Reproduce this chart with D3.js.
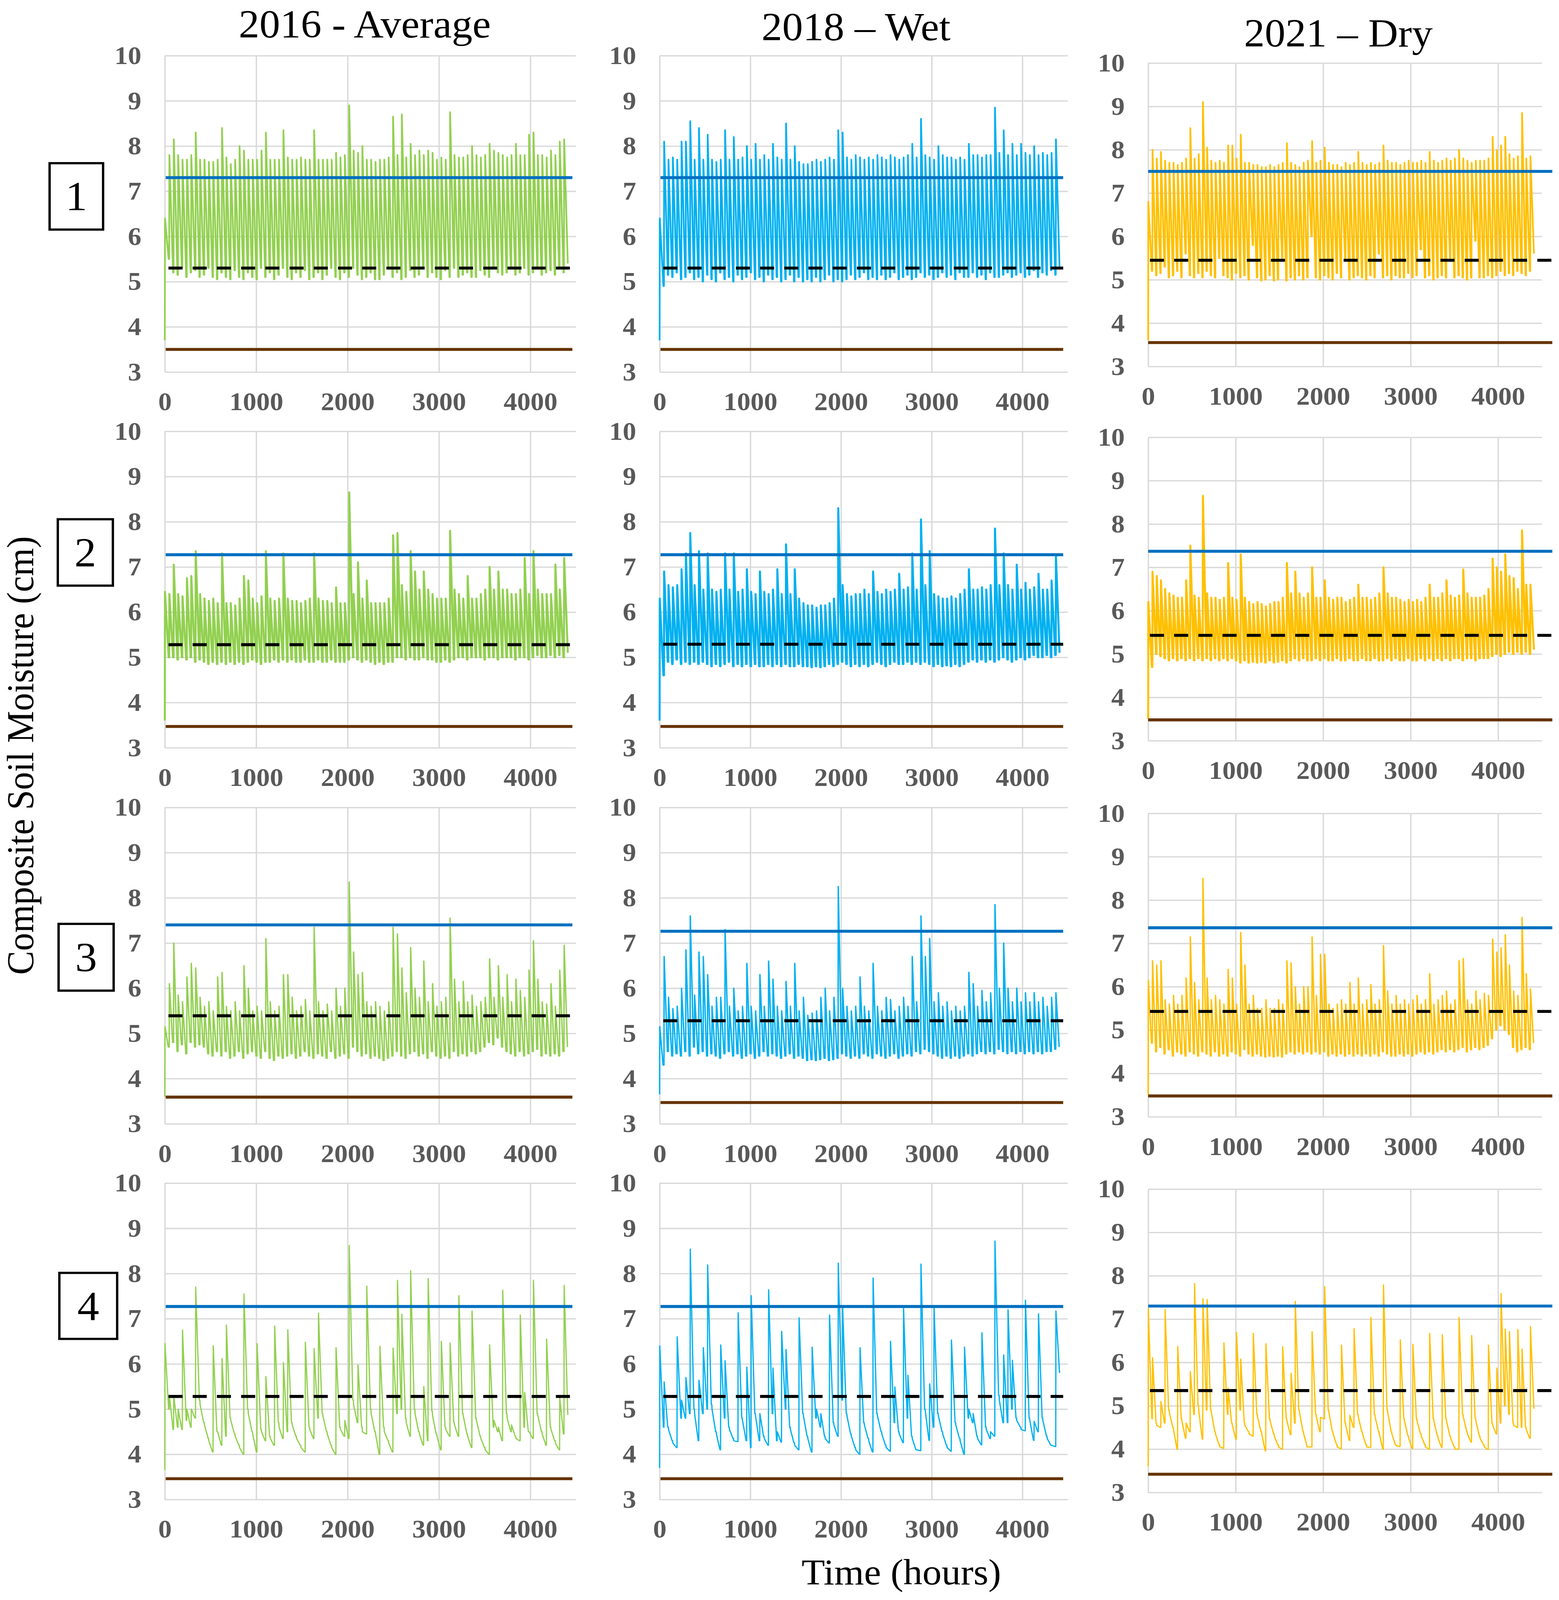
<!DOCTYPE html>
<html>
<head>
<meta charset="utf-8">
<script src="https://cdn.jsdelivr.net/npm/d3@7"></script>
<style>
html, body { margin: 0; padding: 0; width: 100%; height: 100%; overflow: hidden; background: #fff; }
svg { display: block; width: 100vw; height: 100vh; }
</style>
</head>
<body>
<svg id="chart" viewBox="0 0 3992 4314" preserveAspectRatio="none"></svg>
<script>
const columnTitles = ['2016 - Average', '2018 \u2013 Wet', '2021 \u2013 Dry'];
const zoneLabels = ['1', '2', '3', '4'];
const xTicks = [0, 1000, 2000, 3000, 4000];
const yTicks = [3, 4, 5, 6, 7, 8, 9, 10];

// one reading every 48 h: peak right after the event, low at the end of the drying
const STEP_HOURS = 48;

// per zone (row), per year (column)
const startValues = [[3.7, 3.7, 3.6], [3.6, 3.6, 3.5], [3.6, 3.65, 3.5], [3.65, 3.7, 3.6]];
const upperRef = [[7.3, 7.3, 7.5], [7.27, 7.27, 7.37], [7.4, 7.26, 7.36], [7.27, 7.27, 7.3]];
const middleRef = [[5.3, 5.3, 5.45], [5.28, 5.29, 5.43], [5.39, 5.28, 5.43], [5.28, 5.28, 5.35]];
const lowerRef = [[3.5, 3.5, 3.55], [3.47, 3.47, 3.48], [3.59, 3.47, 3.48], [3.46, 3.46, 3.42]];

// zone 1
const peaksZ1_2016 = [6.4,7.8,8.15,7.8,7.7,7.7,7.8,8.3,7.7,7.7,
  7.65,7.65,7.7,8.4,7.75,7.6,7.7,8.0,7.9,7.7,
  7.7,7.7,7.9,8.3,7.7,7.7,7.7,8.35,7.75,7.7,
  7.7,7.75,7.7,7.7,8.35,7.7,7.7,7.7,7.7,7.85,
  7.75,7.8,8.9,7.9,7.85,8.0,7.7,7.7,7.65,7.7,
  7.7,7.75,8.65,7.8,8.7,7.75,8.05,7.8,7.9,7.8,
  7.9,7.85,7.7,7.75,7.7,8.75,7.8,7.75,7.75,7.8,
  8.0,7.8,7.75,7.8,8.05,7.9,7.85,7.8,7.75,7.8,
  8.05,7.8,7.8,8.25,8.3,7.8,7.8,7.75,7.9,7.8,
  8.1,8.15];
const lowsZ1_2016 = [5.5,5.2,5.15,5.3,5.1,5.2,5.25,5.1,5.15,5.3,
  5.1,5.05,5.2,5.1,5.05,5.25,5.1,5.05,5.2,5.1,
  5.05,5.3,5.1,5.2,5.05,5.15,5.3,5.1,5.05,5.2,
  5.1,5.25,5.05,5.1,5.2,5.05,5.15,5.3,5.1,5.05,
  5.2,5.1,5.3,5.15,5.05,5.1,5.2,5.05,5.05,5.15,
  5.3,5.1,5.2,5.05,5.1,5.25,5.1,5.15,5.3,5.1,
  5.2,5.1,5.05,5.25,5.1,5.3,5.1,5.15,5.2,5.1,
  5.1,5.25,5.15,5.1,5.3,5.2,5.15,5.2,5.3,5.15,
  5.2,5.3,5.15,5.2,5.3,5.15,5.2,5.25,5.15,5.3,
  5.2,5.4];
const peaksZ1_2018 = [6.4,8.1,7.7,7.75,7.7,8.1,8.1,8.55,7.7,8.4,
  7.7,8.25,7.7,7.65,7.7,8.35,7.7,8.2,7.7,7.75,
  8.0,7.7,8.05,7.7,7.8,7.7,8.05,7.75,7.7,8.5,
  7.7,8.0,7.65,7.6,7.6,7.65,7.7,7.65,7.7,7.75,
  7.7,8.35,8.3,7.75,7.7,7.8,7.75,7.7,7.75,7.7,
  7.8,7.75,7.7,7.8,7.75,7.7,7.75,7.8,8.05,7.75,
  8.6,7.8,7.75,7.7,8.0,7.8,7.75,7.75,7.7,7.75,
  7.7,8.05,7.8,7.8,7.75,7.8,7.8,8.85,7.85,8.35,
  7.8,8.05,7.8,8.05,7.85,7.8,8.0,7.8,7.85,7.8,
  7.85,8.15];
const lowsZ1_2018 = [4.9,5.15,5.1,5.2,5.05,5.1,5.2,5.05,5.1,5.0,
  5.15,5.05,5.0,5.2,5.05,5.1,5.0,5.15,5.05,5.1,
  5.2,5.05,5.1,5.0,5.15,5.05,5.1,5.0,5.05,5.15,
  5.0,5.1,5.0,5.05,5.0,5.1,5.0,5.05,5.15,5.0,
  5.05,5.0,5.05,5.15,5.05,5.1,5.2,5.05,5.1,5.05,
  5.15,5.05,5.1,5.2,5.05,5.1,5.15,5.05,5.1,5.2,
  5.1,5.15,5.05,5.1,5.2,5.1,5.15,5.05,5.2,5.1,
  5.1,5.2,5.1,5.15,5.05,5.2,5.1,5.1,5.15,5.2,
  5.1,5.15,5.2,5.1,5.15,5.25,5.1,5.2,5.15,5.25,
  5.15,5.3];
const peaksZ1_2021 = [6.8,8.0,7.8,7.95,7.75,7.7,7.7,7.65,7.7,7.8,
  8.5,7.8,7.9,9.1,8.05,7.75,7.7,7.75,7.7,8.1,
  8.1,7.8,8.35,7.7,7.7,7.65,7.65,7.6,7.6,7.65,
  7.6,7.65,7.7,8.15,7.7,7.65,7.6,7.7,7.75,8.2,
  7.7,7.75,8.05,7.7,7.65,7.65,7.6,7.7,7.65,7.7,
  7.95,7.7,7.65,7.7,7.65,7.7,8.1,7.75,7.7,7.7,
  7.65,7.7,7.75,7.7,7.7,7.75,7.7,7.95,7.75,7.7,
  7.75,7.8,7.75,7.8,8.0,7.8,7.75,7.7,7.75,7.75,
  7.75,7.8,8.3,8.0,8.1,8.3,7.9,7.8,7.85,8.85,
  7.8,7.85];
const lowsZ1_2021 = [5.2,5.1,5.15,5.3,5.05,5.1,5.2,5.05,5.6,5.1,
  5.05,5.15,5.05,5.2,5.1,5.05,5.5,5.1,5.05,5.0,
  5.15,5.05,5.1,5.0,5.8,5.05,4.98,5.0,5.1,4.98,
  5.0,5.5,4.98,5.05,5.0,5.1,5.0,5.05,6.0,5.05,
  5.0,5.1,5.05,5.0,5.15,5.05,5.5,5.0,5.05,5.1,
  5.05,5.0,5.1,5.05,5.6,5.05,5.1,5.0,5.1,5.05,
  5.05,5.15,5.05,5.1,5.7,5.05,5.1,5.0,5.05,5.1,
  5.05,5.5,5.05,5.1,5.05,5.0,5.05,5.9,5.05,5.05,
  5.1,5.05,5.1,5.2,5.1,5.15,5.1,5.2,5.15,5.1,
  5.2,5.6];

// zone 2
const peaksZ2_2016 = [6.45,6.4,7.05,6.4,6.35,6.75,6.8,7.35,6.4,6.3,
  6.25,6.3,6.2,7.3,6.2,6.2,6.15,6.3,6.8,6.7,
  6.3,6.2,6.35,7.35,6.3,6.25,6.3,7.3,6.3,6.25,
  6.25,6.2,6.25,6.3,7.3,6.3,6.25,6.25,6.2,6.55,
  6.2,6.2,8.65,6.4,7.1,6.3,6.7,6.2,6.2,6.2,
  6.2,6.3,7.7,7.75,6.6,6.45,7.35,6.9,6.5,6.9,
  6.5,6.4,6.3,6.3,6.3,7.8,6.5,6.4,6.3,6.8,
  6.3,6.3,6.4,6.5,7.0,6.5,6.9,6.5,6.5,6.4,
  6.4,6.5,7.2,6.4,7.35,6.5,6.4,6.4,6.4,7.05,
  6.5,7.2];
const lowsZ2_2016 = [5.0,5.0,4.95,5.0,4.95,5.0,4.9,4.95,4.9,4.85,
  4.9,4.85,4.9,4.85,4.9,4.85,4.9,4.85,4.9,4.95,
  4.9,4.85,4.9,4.9,4.95,4.9,4.95,4.9,4.95,4.9,
  4.9,4.95,4.9,4.9,4.95,4.9,4.9,4.95,4.9,4.9,
  4.9,4.95,5.0,4.95,4.9,4.95,4.9,4.85,4.9,4.85,
  4.9,4.9,5.0,5.0,4.95,5.0,4.95,4.95,5.0,4.95,
  4.95,4.9,4.9,4.95,4.9,4.95,5.0,5.0,4.95,5.0,
  5.0,5.0,4.95,5.0,5.0,4.95,5.0,5.0,5.0,4.95,
  5.0,5.0,4.95,5.0,5.05,5.0,5.0,5.05,5.0,5.05,
  5.0,5.1];
const peaksZ2_2018 = [6.3,6.9,6.6,6.55,6.6,6.95,7.3,7.75,6.6,7.35,
  6.5,7.3,6.5,6.45,6.5,7.3,6.5,7.3,6.45,6.5,
  6.95,6.45,6.4,6.9,6.45,6.4,6.5,6.95,6.4,7.5,
  6.4,6.95,6.3,6.2,6.15,6.15,6.1,6.15,6.15,6.2,
  6.3,8.3,6.6,6.4,6.35,6.4,6.4,6.5,6.4,6.9,
  6.45,6.4,6.5,6.45,6.5,6.85,6.5,6.55,7.3,6.5,
  8.05,6.6,7.35,6.4,6.35,6.3,6.3,6.35,6.3,6.4,
  6.5,6.95,6.5,6.5,6.55,6.5,6.6,7.85,6.6,7.3,
  6.6,6.5,7.05,6.5,6.65,6.5,6.55,6.85,6.5,6.5,
  6.7,7.25];
const lowsZ2_2018 = [4.6,4.9,4.85,4.95,4.85,4.9,4.85,4.9,4.85,4.9,
  4.85,4.8,4.85,4.8,4.85,4.9,4.8,4.85,4.8,4.85,
  4.8,4.85,4.8,4.8,4.85,4.8,4.85,4.8,4.85,4.8,
  4.8,4.85,4.8,4.8,4.78,4.8,4.78,4.8,4.85,4.8,
  4.85,4.9,4.85,4.8,4.85,4.8,4.85,4.8,4.85,4.9,
  4.85,4.8,4.85,4.9,4.85,4.85,4.9,4.85,4.9,4.85,
  4.9,4.85,4.8,4.85,4.8,4.82,4.8,4.85,4.8,4.85,
  4.9,4.95,4.9,4.95,4.9,4.95,4.9,4.95,5.0,4.95,
  4.9,4.95,5.0,4.95,5.0,5.05,5.0,5.0,5.05,5.0,
  5.05,5.1];
const peaksZ2_2021 = [6.2,6.9,6.8,6.7,6.5,6.4,6.35,6.3,6.3,6.7,
  7.5,6.35,6.3,8.65,6.4,6.3,6.3,6.25,6.3,7.1,
  6.3,6.25,7.3,6.3,6.2,6.15,6.2,6.15,6.1,6.15,
  6.2,6.2,6.3,7.1,6.4,6.9,6.4,6.3,6.4,7.0,
  6.3,6.3,6.7,6.3,6.25,6.3,6.3,6.2,6.25,6.3,
  6.6,6.3,6.3,6.25,6.3,6.4,7.0,6.4,6.3,6.3,
  6.25,6.2,6.25,6.2,6.25,6.2,6.3,6.6,6.3,6.3,
  6.4,6.7,6.35,6.3,6.35,6.95,6.4,6.3,6.3,6.3,
  6.35,6.5,7.2,7.0,6.9,7.3,6.8,6.75,6.5,7.85,
  6.6,6.6];
const lowsZ2_2021 = [4.7,5.0,4.95,4.9,4.85,4.9,4.85,4.9,4.85,4.9,
  4.85,4.9,4.85,4.9,4.85,4.9,4.85,4.9,4.85,4.9,
  4.85,4.8,4.85,4.8,4.82,4.8,4.82,4.8,4.85,4.8,
  4.82,4.85,4.8,4.85,4.9,4.85,4.9,4.85,4.85,4.9,
  4.85,4.9,4.85,4.85,4.9,4.85,4.85,4.9,4.85,4.85,
  4.9,4.85,4.85,4.9,4.85,4.85,4.9,4.85,4.9,4.85,
  4.85,4.9,4.85,4.85,4.9,4.85,4.9,4.85,4.9,4.85,
  4.9,4.85,4.9,4.9,4.85,4.9,4.9,4.85,4.9,4.9,
  4.9,4.95,5.0,4.95,5.0,5.05,5.0,5.05,5.0,5.05,
  5.0,5.1];

// zone 3
const peaksZ3_2016 = [5.15,6.1,7.0,5.85,5.7,6.25,6.55,6.45,5.8,5.6,
  5.7,5.5,6.25,6.35,5.6,5.5,5.7,5.5,6.5,6.0,
  5.5,5.6,5.5,7.1,5.7,5.5,5.6,6.3,6.3,5.8,
  5.5,5.6,5.75,5.5,7.35,5.7,5.5,5.65,5.5,6.0,
  5.6,6.0,8.35,6.8,6.3,6.35,5.7,5.6,5.7,5.6,
  5.5,5.7,7.35,7.2,6.45,5.9,6.9,6.0,5.8,6.6,
  5.7,6.1,5.6,5.7,5.8,7.55,6.2,5.7,6.15,5.7,
  5.85,5.6,5.7,5.8,6.65,5.8,6.5,5.8,6.3,5.7,
  6.2,5.95,5.8,6.4,7.05,6.2,5.7,5.65,6.1,5.6,
  6.4,6.95];
const lowsZ3_2016 = [4.7,4.8,4.6,4.75,4.55,4.8,4.7,4.75,4.7,4.55,
  4.5,4.6,4.5,4.6,4.45,4.5,4.6,4.45,4.55,4.6,
  4.5,4.45,4.6,4.45,4.4,4.5,4.45,4.5,4.55,4.45,
  4.5,4.6,4.5,4.45,4.55,4.5,4.45,4.6,4.45,4.5,
  4.55,4.45,4.7,4.6,4.5,4.55,4.45,4.5,4.45,4.4,
  4.45,4.5,4.6,4.5,4.45,4.55,4.6,4.5,4.55,4.45,
  4.6,4.5,4.45,4.5,4.45,4.6,4.5,4.55,4.5,4.6,
  4.55,4.6,4.7,4.8,4.75,4.9,4.7,4.6,4.55,4.5,
  4.6,4.5,4.55,4.6,4.65,4.5,4.55,4.5,4.55,4.5,
  4.6,4.7];
const peaksZ3_2018 = [5.15,6.7,5.8,5.55,5.6,6.0,6.85,7.6,5.85,6.8,
  6.7,6.3,5.6,5.8,5.8,7.3,5.6,6.0,5.5,5.6,
  6.55,5.6,5.5,6.3,5.6,6.6,6.2,5.6,5.5,6.15,
  5.6,6.55,5.5,5.8,5.4,5.45,5.5,5.8,6.0,5.5,
  5.8,8.25,6.0,5.6,5.5,5.6,6.25,5.6,5.5,6.55,
  5.6,5.5,5.8,5.75,5.5,5.6,5.8,5.6,6.7,5.7,
  7.6,6.7,7.1,5.7,5.9,5.6,5.7,5.5,5.6,5.5,
  5.6,6.35,6.1,5.6,5.95,5.7,5.9,7.85,6.0,7.0,
  6.0,5.7,6.0,5.7,5.9,5.7,5.9,5.7,5.8,5.6,
  5.8,5.9];
const lowsZ3_2018 = [4.3,4.6,4.5,4.55,4.5,4.6,4.5,4.7,4.55,4.6,
  4.5,4.55,4.5,4.45,4.55,4.6,4.5,4.55,4.45,4.5,
  4.55,4.45,4.5,4.6,4.5,4.55,4.5,4.45,4.5,4.55,
  4.45,4.5,4.45,4.4,4.42,4.4,4.42,4.45,4.4,4.42,
  4.45,4.55,4.5,4.45,4.5,4.45,4.55,4.5,4.45,4.55,
  4.5,4.45,4.5,4.55,4.45,4.5,4.55,4.5,4.6,4.55,
  4.65,4.6,4.55,4.5,4.45,4.5,4.45,4.5,4.45,4.5,
  4.55,4.5,4.55,4.6,4.55,4.6,4.55,4.65,4.6,4.55,
  4.6,4.55,4.6,4.55,4.6,4.55,4.6,4.55,4.6,4.6,
  4.65,4.7];
const peaksZ3_2021 = [6.15,6.6,6.5,6.6,5.7,5.6,5.8,5.6,5.8,6.2,
  7.15,6.1,5.7,8.5,6.2,5.7,5.8,5.7,5.6,6.4,
  6.2,5.6,7.25,6.5,5.6,5.8,5.5,5.5,5.7,5.5,
  5.5,5.7,5.6,6.6,6.55,6.0,5.6,6.0,6.0,7.15,
  5.8,6.75,6.75,5.6,5.5,5.6,5.7,5.6,6.1,5.6,
  6.2,5.6,5.7,6.05,5.6,5.7,6.95,5.9,5.6,5.8,
  5.6,5.7,5.6,5.7,5.8,5.6,5.7,6.3,5.6,5.7,
  5.8,5.9,5.6,5.7,6.6,6.65,5.7,5.6,5.9,5.7,
  5.85,5.8,7.1,6.8,6.9,7.2,6.5,5.9,5.8,7.6,
  6.3,5.95];
const lowsZ3_2021 = [4.7,4.5,4.6,4.45,4.55,4.4,4.5,4.45,4.4,4.5,
  4.45,4.4,4.5,4.45,4.4,4.5,4.4,4.45,4.4,4.5,
  4.45,4.4,4.55,4.45,4.4,4.45,4.4,4.38,4.4,4.38,
  4.4,4.38,4.45,4.5,4.45,4.5,4.45,4.5,4.45,4.5,
  4.45,4.5,4.4,4.45,4.4,4.45,4.4,4.45,4.4,4.45,
  4.4,4.45,4.4,4.45,4.4,4.5,4.45,4.4,4.4,4.45,
  4.4,4.45,4.4,4.45,4.5,4.45,4.5,4.45,4.5,4.55,
  4.5,4.55,4.5,4.55,4.6,4.5,4.55,4.6,4.55,4.6,
  4.65,4.8,5.0,5.1,5.0,4.9,4.6,4.5,4.55,4.6,
  4.55,4.7];

// zone 4
const peaksZ4_2016 = [6.45,5.3,5.3,5.0,6.75,5.0,5.0,7.7,5.1,4.65,
  4.3,6.4,4.5,6.12,6.86,4.75,4.4,4.15,7.55,4.9,
  4.45,6.45,4.5,5.72,4.35,6.84,4.6,6.03,6.76,4.65,
  4.35,4.15,6.48,4.55,6.34,7.12,4.85,4.45,4.15,6.36,
  4.55,4.75,8.62,5.1,5.98,4.5,7.72,4.9,4.45,6.39,
  4.5,4.25,6.35,7.85,7.1,4.7,8.06,4.9,4.45,5.5,
  7.89,4.85,4.4,6.5,4.55,6.46,4.65,7.51,4.85,4.4,
  7.17,4.75,4.35,4.1,6.42,4.75,4.6,7.63,4.8,4.65,
  4.35,7.08,5.37,4.5,7.85,4.85,4.45,6.55,4.55,4.25,
  5.25,7.74];
const lowsZ4_2016 = [5.0,4.55,4.6,4.55,4.75,4.6,4.8,5.2,4.7,4.35,
  4.05,4.5,4.2,4.4,4.8,4.45,4.2,4.0,5.0,4.5,
  4.05,4.55,4.3,4.4,4.2,4.7,4.35,4.5,4.7,4.4,
  4.2,4.05,4.6,4.35,4.8,4.9,4.5,4.2,4.0,4.6,
  4.4,4.35,5.2,4.7,4.6,4.45,5.0,4.5,4.0,4.6,
  4.3,4.05,4.9,5.0,4.8,4.4,5.0,4.5,4.2,4.3,
  4.95,4.45,4.1,4.6,4.4,4.7,4.4,4.9,4.45,4.15,
  4.8,4.4,4.15,4.0,4.6,4.5,4.3,4.9,4.5,4.4,
  4.3,4.6,4.5,4.35,4.9,4.5,4.2,4.6,4.3,4.1,
  4.45,4.87];
const peaksZ4_2018 = [6.4,5.6,4.55,4.25,6.6,5.2,5.7,8.54,4.9,5.64,
  6.36,8.19,5.0,4.45,6.42,6.07,4.55,4.3,7.13,4.75,
  5.93,7.51,4.85,4.9,4.35,7.64,5.91,4.5,6.72,6.32,
  4.55,4.2,7.02,4.85,4.35,6.37,5.0,4.9,4.35,7.08,
  4.65,8.23,7.26,4.85,4.4,4.1,6.36,4.65,4.3,7.9,
  4.85,4.45,4.15,6.5,5.49,4.45,7.23,5.75,4.35,4.1,
  8.21,4.95,5.56,7.26,4.85,4.45,4.15,6.53,4.65,4.3,
  6.37,5.0,4.9,4.35,6.69,4.55,4.5,8.72,5.2,6.2,
  7.2,6.08,4.75,4.55,7.41,4.75,4.73,7.11,4.75,4.35,
  4.2,7.17];
const lowsZ4_2018 = [4.6,4.6,4.3,4.15,4.8,4.8,4.9,5.0,4.3,4.9,
  5.0,5.1,4.5,4.1,4.8,4.6,4.35,4.28,4.8,4.3,
  4.15,4.9,4.3,4.4,4.2,4.9,4.3,4.27,5.0,4.6,
  4.25,4.1,4.9,4.4,4.05,4.8,4.6,4.4,4.25,4.7,
  4.4,5.2,4.9,4.45,4.15,4.0,4.7,4.35,4.05,4.9,
  4.5,4.2,4.07,4.7,4.5,4.26,4.8,4.4,4.1,4.08,
  5.0,4.31,4.6,4.9,4.5,4.2,4.07,4.7,4.35,4.0,
  4.8,4.7,4.4,4.21,4.6,4.35,4.4,5.3,4.7,4.7,
  5.0,4.8,4.6,4.52,4.8,4.31,4.5,4.8,4.4,4.2,
  4.17,5.8];
const peaksZ4_2021 = [7.24,6.11,4.55,5.1,7.22,4.85,4.45,6.37,4.65,4.6,
  5.79,7.82,4.9,7.47,7.45,4.85,4.35,4.05,6.45,5.41,
  4.55,6.69,6.08,4.55,4.35,6.67,4.75,4.35,6.43,4.65,
  4.3,4.05,6.36,4.65,5.75,7.41,4.85,4.35,4.05,6.71,
  4.75,4.73,7.75,4.85,4.35,4.05,6.4,4.55,4.78,6.78,
  4.75,4.35,4.05,7.04,4.75,4.35,7.79,4.85,4.35,4.08,
  6.52,4.65,4.25,6.42,4.65,4.3,4.05,6.67,4.65,4.25,
  6.64,4.65,4.25,4.0,7.04,4.75,4.35,6.62,4.65,4.25,
  4.05,6.4,4.55,5.87,7.59,6.77,6.71,4.55,6.76,6.31,
  4.45,6.83];
const lowsZ4_2021 = [4.7,4.6,4.5,4.6,4.9,4.5,4.0,4.7,4.25,4.4,
  4.8,5.0,4.23,4.9,4.9,4.4,4.1,4.02,4.8,4.6,
  4.23,4.9,4.61,4.4,4.3,4.8,4.4,3.96,4.7,4.35,
  4.1,4.0,4.7,4.33,4.6,4.9,4.4,4.05,4.05,4.8,
  4.4,4.7,4.9,4.4,4.1,4.01,4.6,4.2,4.5,4.8,
  4.4,4.1,4.04,4.8,4.4,4.0,4.9,4.4,4.1,4.06,
  4.7,4.3,4.01,4.7,4.35,4.1,4.0,4.7,4.3,4.04,
  4.7,4.3,4.05,4.0,4.8,4.4,4.16,4.7,4.3,4.1,
  3.99,4.6,4.35,4.6,5.0,4.8,4.6,4.5,4.5,4.5,
  4.25,4.93];

const zonePeaks = [
  [peaksZ1_2016, peaksZ1_2018, peaksZ1_2021],
  [peaksZ2_2016, peaksZ2_2018, peaksZ2_2021],
  [peaksZ3_2016, peaksZ3_2018, peaksZ3_2021],
  [peaksZ4_2016, peaksZ4_2018, peaksZ4_2021]
];
const zoneLows = [
  [lowsZ1_2016, lowsZ1_2018, lowsZ1_2021],
  [lowsZ2_2016, lowsZ2_2018, lowsZ2_2021],
  [lowsZ3_2016, lowsZ3_2018, lowsZ3_2021],
  [lowsZ4_2016, lowsZ4_2018, lowsZ4_2021]
];

const SERIES_COLORS = ['#92D050', '#00B0F0', '#FFC000'];
const UPPER_COLOR = '#0070C0';
const LOWER_COLOR = '#663300';
const GRID_COLOR = '#D9D9D9';
const TICK_COLOR = '#595959';
const SERIF = '"Liberation Serif", "Times New Roman", serif';

// hours it takes a peak to dry down, and trace width, per zone
const FALL_HOURS = [40, 40, 36, 40];
const TRACE_WIDTH = [4.4, 5.2, 3.6, 3.2];

// panel frames in page pixels
const COLUMNS = [
  { left: 422, right: 1475, tops: [150, 1163, 2177, 3190], height: 853, refFrom: 10, dashFrom: 40, refTo: 4460, titleX: 934, titleY: 101 },
  { left: 1689, right: 2734, tops: [150, 1163, 2177, 3190], height: 853, refFrom: 10, dashFrom: 40, refTo: 4450, titleX: 2192, titleY: 108 },
  { left: 2940, right: 3948, tops: [170, 1179, 2193, 3206], height: 818, refFrom: 0, dashFrom: 20, refTo: 4620, titleX: 3427, titleY: 125 }
];
const ZONE_BOXES = [
  { x: 127, y: 440, w: 137, h: 179 },
  { x: 148, y: 1400, w: 141, h: 179 },
  { x: 150, y: 2491, w: 141, h: 180 },
  { x: 152, y: 3432, w: 148, h: 178 }
];

function seriesPoints(start, peaks, lows, fall) {
  const pts = [[0, start]];
  peaks.forEach((p, i) => {
    const t = i * STEP_HOURS;
    if (i > 0) pts.push([t, lows[i - 1]]);
    pts.push([t + 2, p]);
    pts.push([t + 2 + fall, lows[i]]);
  });
  return pts;
}

function styleAxis(sel) {
  sel.select('.domain').remove();
  sel.selectAll('.tick line')
    .attr('stroke', GRID_COLOR)
    .attr('stroke-width', 3.5);
  sel.selectAll('.tick text')
    .attr('fill', TICK_COLOR)
    .style('font-family', SERIF)
    .style('font-weight', 'bold')
    .style('font-size', '69px');
}

function drawPanel(svg, zone, col) {
  const frame = COLUMNS[col];
  const top = frame.tops[zone];
  const bottom = top + frame.height;
  const width = frame.right - frame.left;

  const x = d3.scaleLinear().domain([0, 4500]).range([frame.left, frame.right]);
  const y = d3.scaleLinear().domain([3, 10]).range([bottom, top]);

  const g = svg.append('g').attr('class', 'panel');

  g.append('g')
    .attr('transform', `translate(0,${bottom})`)
    .call(d3.axisBottom(x).tickValues(xTicks).tickFormat(d3.format('d')).tickSize(-frame.height).tickPadding(54))
    .call(styleAxis);

  g.append('g')
    .attr('transform', `translate(${frame.left},0)`)
    .call(d3.axisLeft(y).tickValues(yTicks).tickFormat(d3.format('d')).tickSize(-width).tickPadding(60))
    .call(styleAxis);

  const pts = seriesPoints(startValues[zone][col], zonePeaks[zone][col], zoneLows[zone][col], FALL_HOURS[zone]);
  const line = d3.line().x(d => x(d[0])).y(d => y(d[1]));

  g.append('path')
    .datum(pts)
    .attr('d', line)
    .attr('fill', 'none')
    .attr('stroke', SERIES_COLORS[col])
    .attr('stroke-width', TRACE_WIDTH[zone])
    .attr('stroke-linejoin', 'round');

  g.append('line')
    .attr('x1', x(frame.refFrom)).attr('x2', x(frame.refTo))
    .attr('y1', y(upperRef[zone][col])).attr('y2', y(upperRef[zone][col]))
    .attr('stroke', UPPER_COLOR).attr('stroke-width', 8);

  g.append('line')
    .attr('x1', x(frame.refFrom)).attr('x2', x(frame.refTo))
    .attr('y1', y(lowerRef[zone][col])).attr('y2', y(lowerRef[zone][col]))
    .attr('stroke', LOWER_COLOR).attr('stroke-width', 8);

  g.append('line')
    .attr('x1', x(frame.dashFrom)).attr('x2', x(frame.refTo))
    .attr('y1', y(middleRef[zone][col])).attr('y2', y(middleRef[zone][col]))
    .attr('stroke', '#000').attr('stroke-width', 8)
    .attr('stroke-dasharray', '36,26');
}

function drawChart() {
  const svg = d3.select('#chart');

  svg.append('rect').attr('width', 3992).attr('height', 4314).attr('fill', '#fff');

  for (let zone = 0; zone < zoneLabels.length; zone++) {
    for (let col = 0; col < columnTitles.length; col++) {
      drawPanel(svg, zone, col);
    }
  }

  COLUMNS.forEach((frame, col) => {
    svg.append('text')
      .attr('x', frame.titleX)
      .attr('y', frame.titleY)
      .attr('text-anchor', 'middle')
      .style('font-family', SERIF)
      .style('font-size', '106px')
      .attr('fill', '#000')
      .text(columnTitles[col]);
  });

  ZONE_BOXES.forEach((b, i) => {
    svg.append('rect')
      .attr('x', b.x).attr('y', b.y)
      .attr('width', b.w).attr('height', b.h)
      .attr('fill', '#fff')
      .attr('stroke', '#000')
      .attr('stroke-width', 6);
    svg.append('text')
      .attr('x', b.x + b.w / 2)
      .attr('y', b.y + b.h / 2)
      .attr('text-anchor', 'middle')
      .attr('dominant-baseline', 'central')
      .style('font-family', SERIF)
      .style('font-size', '112px')
      .text(zoneLabels[i]);
  });

  svg.append('text')
    .attr('transform', 'translate(85,2037) rotate(-90)')
    .attr('text-anchor', 'middle')
    .style('font-family', SERIF)
    .style('font-size', '97px')
    .text('Composite Soil Moisture (cm)');

  svg.append('text')
    .attr('x', 2308)
    .attr('y', 4272)
    .attr('text-anchor', 'middle')
    .style('font-family', SERIF)
    .style('font-size', '98px')
    .text('Time (hours)');
}

document.addEventListener('DOMContentLoaded', drawChart);
</script>
</body>
</html>
